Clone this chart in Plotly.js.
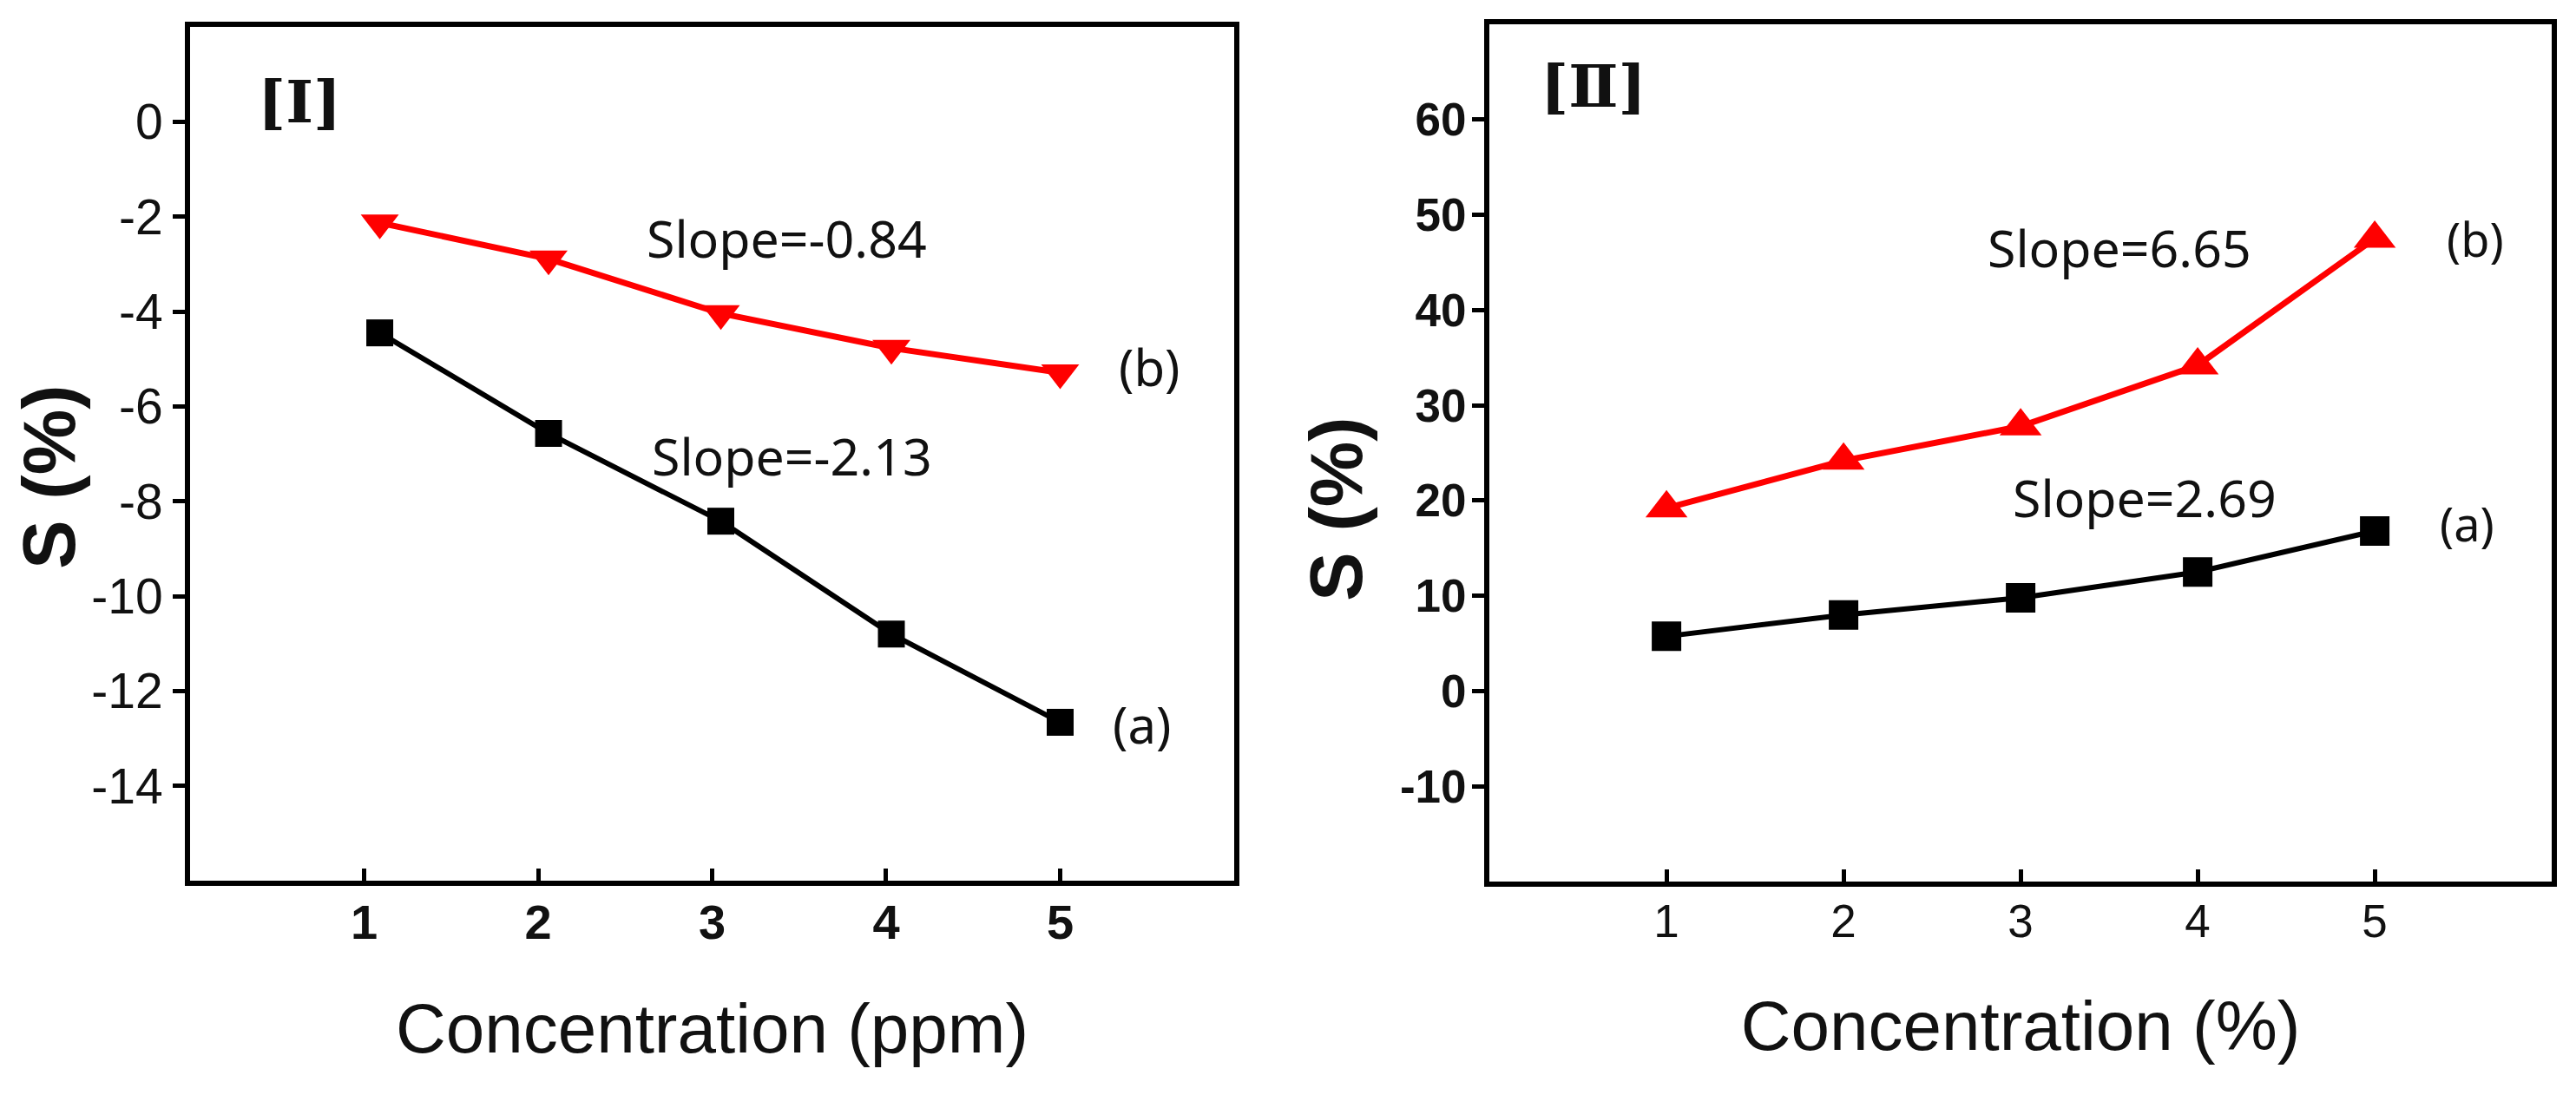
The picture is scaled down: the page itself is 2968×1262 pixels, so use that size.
<!DOCTYPE html>
<html>
<head>
<meta charset="utf-8">
<script src="https://cdn.plot.ly/plotly-3.0.1.min.js"></script>
<style>
  html, body { margin: 0; padding: 0; background: #fff; }
  #myDiv { width: 2968px; height: 1262px; }
</style>
</head>
<body>
<div id="myDiv"></div>
<script>
// panel I : concentration in ppm
var concPpm = [1.09, 2.06, 3.05, 4.03, 5.0];
var sPpmA = [-4.45, -6.57, -8.42, -10.80, -12.66];
var sPpmB = [-2.13, -2.89, -4.04, -4.77, -5.29];

// panel II : concentration in %
var concPct = [1, 2, 3, 4, 5];
var sPctA = [5.75, 8.0, 9.8, 12.5, 16.8];
var sPctB = [19.2, 24.2, 27.8, 34.2, 47.5];

var xTicks = [1, 2, 3, 4, 5];
var yTicks1 = [-14, -12, -10, -8, -6, -4, -2, 0];
var yLabels1 = ['-14', '-12', '-10', '-8', '-6', '-4', '-2', '0'];
var yTicks2 = [-10, 0, 10, 20, 30, 40, 50, 60];
var yLabels2 = ['-10', '0', '10', '20', '30', '40', '50', '60'];

var sans = 'Liberation Sans, Arial, sans-serif';
var noto = 'Noto Sans, Open Sans, sans-serif';

var data = [];
data.push({
  x: concPpm, y: sPpmA, xaxis: 'x', yaxis: 'y',
  type: 'scatter', mode: 'lines+markers',
  line: {color: '#000', width: 6},
  marker: {symbol: 'square', size: 31, color: '#000'}
});
data.push({
  x: concPpm, y: sPpmB, xaxis: 'x', yaxis: 'y',
  type: 'scatter', mode: 'lines+markers',
  line: {color: '#ff0000', width: 7},
  marker: {symbol: 'triangle-down', size: 38, color: '#ff0000'}
});
data.push({
  x: concPct, y: sPctA, xaxis: 'x2', yaxis: 'y2',
  type: 'scatter', mode: 'lines+markers',
  line: {color: '#000', width: 6},
  marker: {symbol: 'square', size: 34, color: '#000'}
});
data.push({
  x: concPct, y: sPctB, xaxis: 'x2', yaxis: 'y2',
  type: 'scatter', mode: 'lines+markers',
  line: {color: '#ff0000', width: 7},
  marker: {symbol: 'triangle-up', size: 42, color: '#ff0000'}
});

function xAxis(dom, anchor, title, fnt) {
  return {
    domain: dom, anchor: anchor, range: [0, 6],
    tickvals: xTicks, ticks: 'inside', ticklen: 14, tickwidth: 5, tickcolor: '#000',
    showline: true, mirror: true, linewidth: 6, linecolor: '#000',
    showgrid: false, zeroline: false,
    tickfont: fnt, ticklabelstandoff: -6,
    title: {text: title, font: {family: sans, size: 80, color: '#111'}, standoff: 66}
  };
}
function yAxis(dom, anchor, rng, vals, labels, fnt, off) {
  return {
    domain: dom, anchor: anchor, range: rng,
    tickvals: vals, ticktext: labels,
    ticks: 'outside', ticklen: 14, tickwidth: 5, tickcolor: '#000',
    showline: true, mirror: true, linewidth: 6, linecolor: '#000',
    showgrid: false, zeroline: false,
    tickfont: fnt, ticklabelstandoff: off
  };
}

var annotations = [];
function note(xr, yr, x, y, txt, fnt, ang) {
  annotations.push({
    xref: xr, yref: yr, x: x, y: y, text: txt, showarrow: false,
    xanchor: 'center', yanchor: 'middle', font: fnt, textangle: ang || 0
  });
}
// panel labels and slopes
note('x', 'y', 0.63, 0.43, '[Ⅰ]', {family: 'DejaVu Serif, serif', size: 68, color: '#111', weight: 'bold'});
note('x', 'y', 3.43, -2.44, 'Slope=-0.84', {family: noto, size: 59, color: '#111'});
note('x', 'y', 5.51, -5.17, '(b)', {family: noto, size: 58, color: '#111'});
note('x', 'y', 3.46, -7.04, 'Slope=-2.13', {family: noto, size: 59, color: '#111'});
note('x', 'y', 5.47, -12.69, '(a)', {family: noto, size: 58, color: '#111'});
note('x2', 'y2', 0.59, 63.5, '[Ⅱ]', {family: 'DejaVu Serif, serif', size: 68, color: '#111', weight: 'bold'});
note('x2', 'y2', 3.56, 46.6, 'Slope=6.65', {family: noto, size: 59, color: '#111'});
note('x2', 'y2', 5.57, 47.5, '(b)', {family: noto, size: 54, color: '#111'});
note('x2', 'y2', 3.70, 20.4, 'Slope=2.69', {family: noto, size: 59, color: '#111'});
note('x2', 'y2', 5.52, 17.6, '(a)', {family: noto, size: 54, color: '#111'});
// y axis titles
note('paper', 'paper', 0.0192, 0.565, 'S (%)', {family: sans, size: 85, color: '#111', weight: 'bold'}, -90);
note('paper', 'paper', 0.5189, 0.535, 'S (%)', {family: sans, size: 85, color: '#111', weight: 'bold'}, -90);

var layout = {
  width: 2968, height: 1262,
  margin: {l: 0, r: 0, t: 0, b: 0},
  paper_bgcolor: '#fff', plot_bgcolor: '#fff',
  showlegend: false,
  xaxis: xAxis([0.0738, 0.4791], 'y', 'Concentration (ppm)', {family: sans, size: 56, color: '#111', weight: 'bold'}),
  yaxis: yAxis([0.1957, 0.9754], 'x', [-16, 2], yTicks1, yLabels1, {family: sans, size: 57, color: '#111'}, 0),
  xaxis2: xAxis([0.5782, 0.9906], 'y2', 'Concentration (%)', {family: sans, size: 53, color: '#111'}),
  yaxis2: yAxis([0.1949, 0.9778], 'x2', [-20, 70], yTicks2, yLabels2, {family: sans, size: 53, color: '#111', weight: 'bold'}, -4),
  annotations: annotations
};

Plotly.newPlot('myDiv', data, layout, {displayModeBar: false, staticPlot: true});
</script>
</body>
</html>
